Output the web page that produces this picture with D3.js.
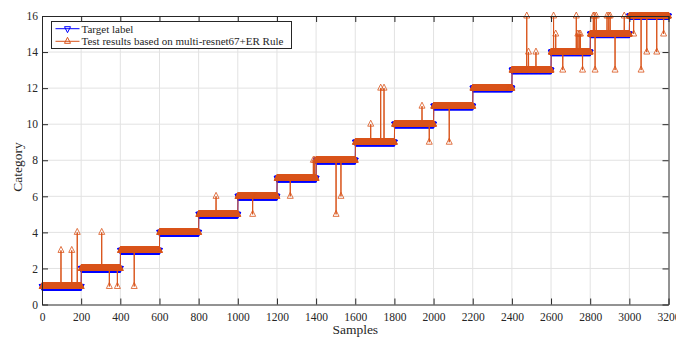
<!DOCTYPE html>
<html>
<head>
<meta charset="utf-8">
<script src="https://cdn.jsdelivr.net/npm/d3@7"></script>
<style>
  html, body { margin: 0; padding: 0; background: #fff; }
  svg { display: block; font-family: 'Liberation Serif', 'Times New Roman', serif; }
</style>
</head>
<body>
<div id="chart"></div>
<script>
/* one category per block of 200 samples */
const categories = [1, 2, 3, 4, 5, 6, 7, 8, 9, 10, 11, 12, 13, 14, 15, 16]
const segmentEnds = [200, 400, 600, 800, 1000, 1200, 1400, 1600, 1800, 2000, 2200, 2400, 2600, 2800, 3000, 3200]

/* misclassified samples and what the model predicted for them */
const errorSamples = [
  97, 152, 180, 305, 344, 385, 471,
  889, 1076, 1268, 1386, 1393, 1502, 1527,
  1679, 1730, 1747, 1941, 1978, 2080,
  2476, 2485, 2523,
  2613, 2624, 2660, 2729, 2737, 2744, 2750, 2761,
  2816, 2822, 2825, 2831, 2886, 2895, 2902, 2927, 2974,
  3022, 3060, 3089, 3140, 3175
]
const errorValues = [
  3, 3, 4, 4, 1, 1, 1,
  6, 5, 6, 8, 8, 5, 6,
  10, 12, 12, 11, 9, 9,
  16, 14, 14,
  16, 15, 13, 16, 15, 15, 15, 13,
  16, 16, 13, 16, 16, 16, 16, 13, 16,
  15, 13, 14, 14, 15
]

const xTicks = [0, 200, 400, 600, 800, 1000, 1200, 1400, 1600, 1800, 2000, 2200, 2400, 2600, 2800, 3000, 3200]
const yTicks = [0, 2, 4, 6, 8, 10, 12, 14, 16]
const seriesNames = ['Target label', 'Test results based on multi-resnet67+ER Rule']

const W = 676
const H = 338
const axisColor = '#262626'
const gridColor = '#e2e2e2'
const blue = '#0000ff'
const orange = '#d95319'

/* expand the runs into per-sample series */
const totalSamples = segmentEnds[segmentEnds.length - 1]
const target = []
const predicted = []
const errorMap = new Map(errorSamples.map((s, i) => [s, errorValues[i]]))
for (let s = 1; s <= totalSamples; s++) {
  const cat = categories[segmentEnds.findIndex(e => s <= e)]
  target.push({ s, v: cat })
  predicted.push({ s, v: errorMap.has(s) ? errorMap.get(s) : cat })
}

const x = d3.scaleLinear().domain([0, 3200]).range([42, 668.5])
const y = d3.scaleLinear().domain([0, 16]).range([304.5, 16])

const svg = d3.select('#chart')
  .append('svg')
  .attr('width', W)
  .attr('height', H)
  .attr('viewBox', `0 0 ${W} ${H}`)

/* plot area background + grid */
svg.append('rect')
  .attr('x', x(0)).attr('y', y(16))
  .attr('width', x(3200) - x(0)).attr('height', y(0) - y(16))
  .attr('fill', '#fff')

const grid = svg.append('g').attr('class', 'grid')
grid.selectAll('.gx')
  .data(xTicks.slice(1, -1))
  .join('line')
  .attr('class', 'gx')
  .attr('x1', d => x(d)).attr('x2', d => x(d))
  .attr('y1', y(0)).attr('y2', y(16))
  .attr('stroke', gridColor)
  .attr('stroke-width', 1)
grid.selectAll('.gy')
  .data(yTicks.slice(1, -1))
  .join('line')
  .attr('class', 'gy')
  .attr('y1', d => y(d)).attr('y2', d => y(d))
  .attr('x1', x(0)).attr('x2', x(3200))
  .attr('stroke', gridColor)
  .attr('stroke-width', 1)

/* triangle markers, centred on their centroid like matlab does */
const triUp = 'M0,-4L3,2L-3,2Z'
const triDown = 'M-3,-2L3,-2L0,4Z'

const line = d3.line()
  .x(d => x(d.s))
  .y(d => y(d.v))

function drawSeries(data, color, marker, cls) {
  const g = svg.append('g').attr('class', cls)
  g.append('path')
    .datum(data)
    .attr('d', line)
    .attr('fill', 'none')
    .attr('stroke', color)
    .attr('stroke-width', 1)
  g.selectAll('path.m')
    .data(data)
    .join('path')
    .attr('class', 'm')
    .attr('d', marker)
    .attr('transform', d => `translate(${x(d.s)},${y(d.v)})`)
    .attr('fill', 'none')
    .attr('stroke', color)
    .attr('stroke-width', 0.8)
}

drawSeries(target, blue, triDown, 'target')
drawSeries(predicted, orange, triUp, 'predicted')

/* axes, ticks pointing inward, box all round */
function styleAxis(g) {
  g.selectAll('path, line').attr('stroke', axisColor)
  g.selectAll('text')
    .attr('fill', axisColor)
    .attr('font-size', '11.5px')
    .attr('font-family', "'Liberation Serif', 'Times New Roman', serif")
}

svg.append('g')
  .attr('transform', `translate(0,${y(0)})`)
  .call(d3.axisBottom(x).tickValues(xTicks).tickFormat(d3.format('d'))
    .tickSizeInner(-6).tickSizeOuter(0).tickPadding(8))
  .call(styleAxis)

svg.append('g')
  .attr('transform', `translate(0,${y(16)})`)
  .call(d3.axisTop(x).tickValues(xTicks).tickSizeInner(-6).tickSizeOuter(0).tickFormat(''))
  .call(styleAxis)

svg.append('g')
  .attr('transform', `translate(${x(0)},0)`)
  .call(d3.axisLeft(y).tickValues(yTicks).tickFormat(d3.format('d'))
    .tickSizeInner(-6).tickSizeOuter(0).tickPadding(4))
  .call(styleAxis)

svg.append('g')
  .attr('transform', `translate(${x(3200)},0)`)
  .call(d3.axisRight(y).tickValues(yTicks).tickSizeInner(-6).tickSizeOuter(0).tickFormat(''))
  .call(styleAxis)

/* axis titles */
svg.append('text')
  .attr('x', (x(0) + x(3200)) / 2)
  .attr('y', 334)
  .attr('text-anchor', 'middle')
  .attr('fill', axisColor)
  .attr('font-size', '13.5px')
  .text('Samples')

svg.append('text')
  .attr('transform', `translate(22,167) rotate(-90)`)
  .attr('text-anchor', 'middle')
  .attr('fill', axisColor)
  .attr('font-size', '13.5px')
  .text('Category')

/* legend */
const legend = svg.append('g').attr('class', 'legend')
legend.append('rect')
  .attr('x', 51.5).attr('y', 21.5)
  .attr('width', 240).attr('height', 27)
  .attr('fill', '#fff')
  .attr('stroke', axisColor)
  .attr('stroke-width', 1)

const legendRows = legend.selectAll('.row')
  .data([
    { name: seriesNames[0], color: blue, marker: triDown },
    { name: seriesNames[1], color: orange, marker: triUp }
  ])
  .join('g')
  .attr('class', 'row')
  .attr('transform', (d, i) => `translate(0,${28.7 + i * 12.6})`)

legendRows.append('line')
  .attr('x1', 55.5).attr('x2', 79.5)
  .attr('stroke', d => d.color)
  .attr('stroke-width', 1)
legendRows.append('path')
  .attr('d', d => d.marker)
  .attr('transform', 'translate(67.5,0)')
  .attr('fill', 'none')
  .attr('stroke', d => d.color)
  .attr('stroke-width', 1)
legendRows.append('text')
  .attr('x', 81.5)
  .attr('dy', '0.35em')
  .attr('fill', axisColor)
  .attr('font-size', '11px')
  .text(d => d.name)
</script>
</body>
</html>
